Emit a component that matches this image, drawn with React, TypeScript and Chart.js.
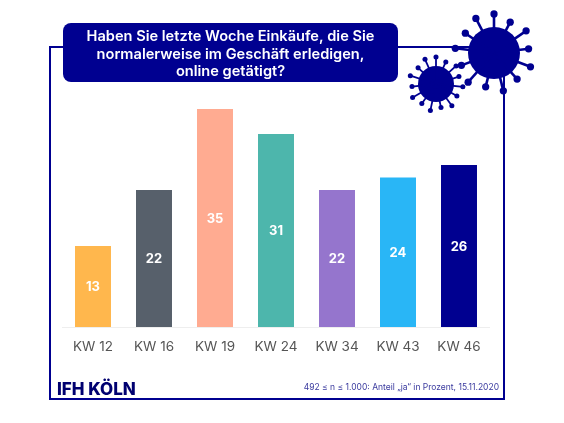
import React, { useEffect, useRef } from 'react';
import Chart from 'chart.js/auto';

const weeks = ['KW 12', 'KW 16', 'KW 19', 'KW 24', 'KW 34', 'KW 43', 'KW 46'];
const shares = [13, 22, 35, 31, 22, 24, 26];
const barColors = ['#FFB74D', '#57606B', '#FFAB91', '#4DB6AC', '#9575CD', '#29B6F6', '#000090'];
const titleLines = ['Haben Sie letzte Woche Einkäufe, die Sie', 'normalerweise im Geschäft erledigen,', 'online getätigt?'];
const sourceNote = '492 ≤ n ≤ 1.000: Anteil „ja“ in Prozent, 15.11.2020';
const brand = 'IFH KÖLN';

const navy = '#000090';

function drawVirus(ctx: CanvasRenderingContext2D, cx: number, cy: number, r: number, spikes: number) {
  ctx.fillStyle = navy;
  ctx.strokeStyle = navy;
  ctx.beginPath();
  ctx.arc(cx, cy, r, 0, Math.PI * 2);
  ctx.fill();
  for (let i = 0; i < spikes; i++) {
    const a = (i / spikes) * Math.PI * 2 - Math.PI / 2;
    // every other spike is a bit shorter
    const len = r * (i % 2 ? 1.34 : 1.5);
    ctx.lineWidth = r * 0.1;
    ctx.beginPath();
    ctx.moveTo(cx, cy);
    ctx.lineTo(cx + Math.cos(a) * len, cy + Math.sin(a) * len);
    ctx.stroke();
    ctx.beginPath();
    ctx.arc(cx + Math.cos(a) * len, cy + Math.sin(a) * len, r * 0.14, 0, Math.PI * 2);
    ctx.fill();
  }
}

const frame = {
  id: 'frame',
  beforeDraw(chart: Chart) {
    const ctx = chart.ctx;
    ctx.save();
    ctx.fillStyle = '#fff';
    ctx.fillRect(0, 0, 564, 423);
    ctx.strokeStyle = navy;
    ctx.lineWidth = 2;
    ctx.strokeRect(50, 47, 454, 352);
    ctx.restore();
  },
  afterDraw(chart: Chart) {
    const ctx = chart.ctx;
    ctx.save();

    // value labels in the middle of the bars
    const bars = chart.getDatasetMeta(0).data;
    ctx.fillStyle = '#fff';
    ctx.font = '700 13px Inter';
    ctx.textAlign = 'center';
    ctx.textBaseline = 'middle';
    bars.forEach((bar: any, i) => {
      ctx.fillText(String(shares[i]), bar.x, (bar.y + bar.base) / 2 + 1);
    });

    drawVirus(ctx, 494, 53, 26, 13);
    drawVirus(ctx, 436, 84, 18, 15);

    // title box
    ctx.fillStyle = navy;
    ctx.beginPath();
    ctx.roundRect(63, 23, 335, 59, 8);
    ctx.fill();
    ctx.fillStyle = '#fff';
    ctx.font = '600 14.6px Inter';
    ctx.textBaseline = 'alphabetic';
    titleLines.forEach((line, i) => {
      ctx.fillText(line, 230.5, 41 + i * 17.5);
    });

    ctx.textAlign = 'left';
    ctx.fillStyle = '#000070';
    ctx.font = '800 17px Inter';
    ctx.fillText(brand, 57, 395);

    ctx.textAlign = 'right';
    ctx.fillStyle = '#3A3A9E';
    ctx.font = '400 8.5px Inter';
    ctx.fillText(sourceNote, 499, 390);
    ctx.restore();
  },
};

export default function App() {
  const chartRef = useRef<HTMLCanvasElement>(null);

  useEffect(() => {
    if (!chartRef.current) return;
    const chart = new Chart(chartRef.current, {
      type: 'bar',
      data: {
        labels: weeks,
        datasets: [{ data: shares, backgroundColor: barColors, barPercentage: 0.59, categoryPercentage: 1 }],
      },
      options: {
        responsive: false,
        animation: false,
        layout: { padding: { left: 62.5, right: 74.5, top: 109, bottom: 0 } },
        plugins: { legend: { display: false }, tooltip: { enabled: false } },
        scales: {
          y: { display: false, min: 0, max: 35 },
          x: {
            afterFit: (scale: any) => {
              scale.height = 96;
            },
            grid: { display: false },
            border: { color: '#EEEEEE' },
            ticks: { color: '#555555', font: { family: 'Inter', size: 13.5 }, padding: 4, maxRotation: 0 },
          },
        },
      },
      plugins: [frame],
    });
    return () => chart.destroy();
  }, []);

  return <canvas ref={chartRef} width={564} height={423} style={{ position: 'fixed', left: 0, top: 0 }}></canvas>;
}
